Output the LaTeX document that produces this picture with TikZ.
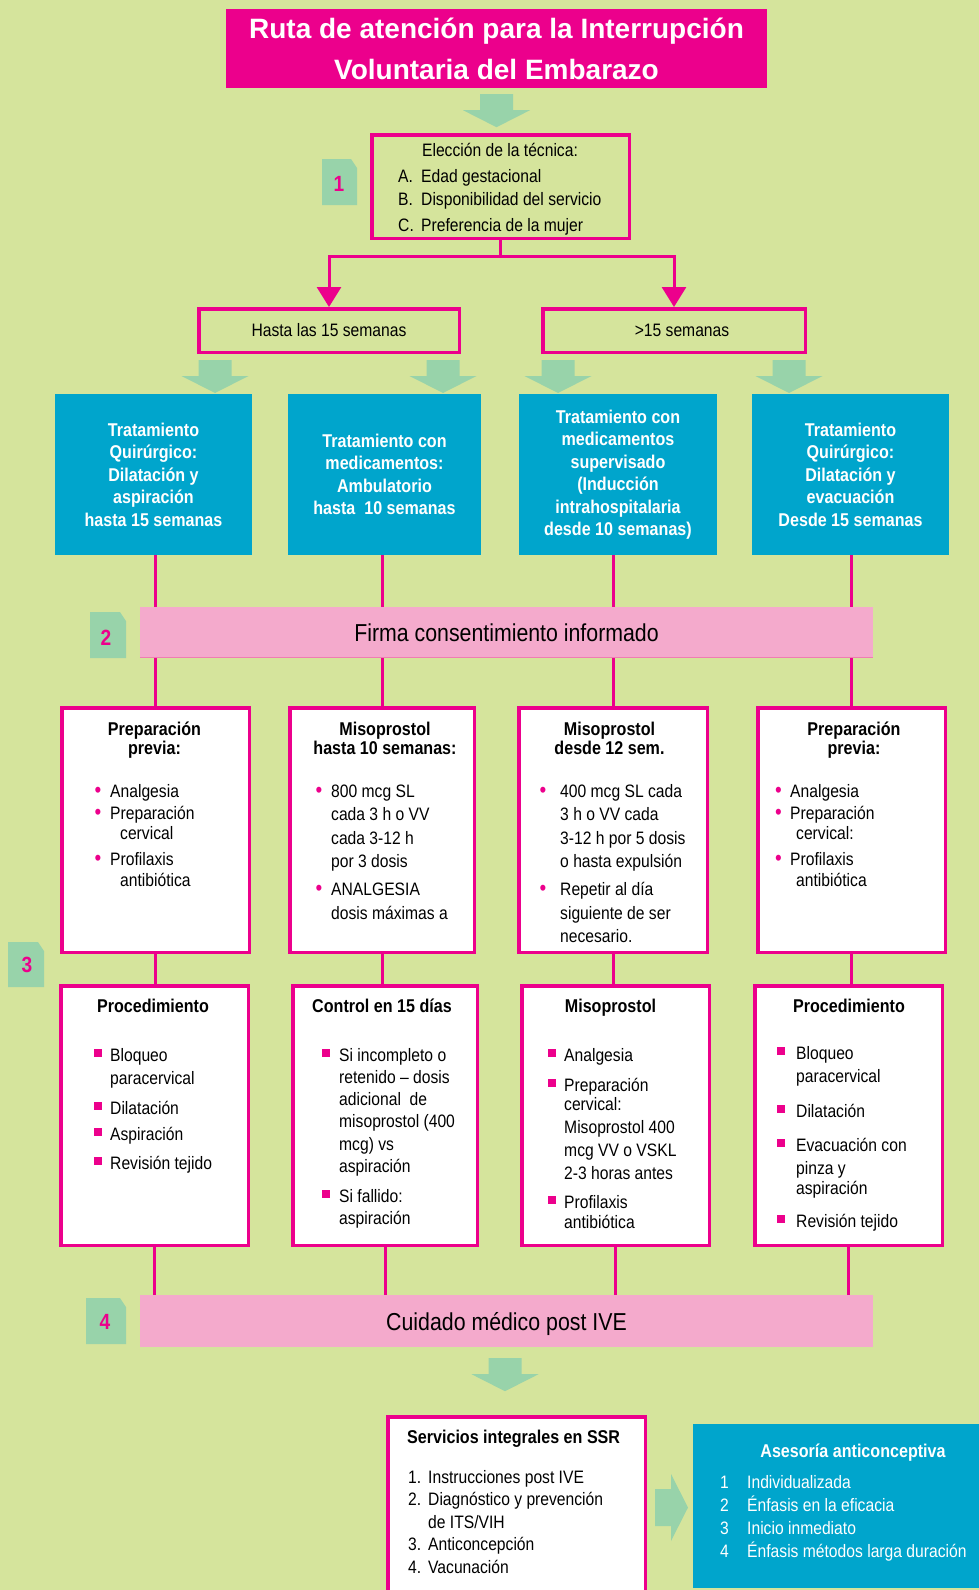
\documentclass[tikz,border=0pt]{standalone}
\usepackage{fontspec}
\setmainfont{Liberation Sans}[FakeStretch=0.87]
\newfontfamily\titlefont{Liberation Sans}
\usetikzlibrary{arrows.meta}

\definecolor{mag}{RGB}{236,0,140}
\definecolor{fondo}{RGB}{213,228,156}
\definecolor{azul}{RGB}{0,165,204}
\definecolor{rosa}{RGB}{244,170,204}
\definecolor{rosaborde}{RGB}{240,125,178}
\definecolor{verde}{RGB}{152,211,170}

\newlength\bulw
\newcommand\txtnorm{\fontsize{18}{23}\selectfont}
\newcommand\txthead{\bfseries\fontsize{18.5}{19}\selectfont}
% list block: lines always one baselineskip apart
\newcommand\lst[1]{\vtop{\lineskiplimit=-40pt\relax #1}}
% list lines: bullet, square, continuation, plain label
\newcommand\ibul[1]{\hbox{\makebox[\bulw][l]{\color{mag}\fontsize{22}{22}\selectfont\textbullet}#1}}
\newcommand\isq[1]{\hbox{\makebox[\bulw][l]{\color{mag}\rule[4.5pt]{8pt}{8pt}}#1}}
\newcommand\imore[1]{\hbox{\hspace{\bulw}#1}}
\newcommand\iplain[2]{\hbox{\makebox[\bulw][l]{#1}#2}}
% numbered tab with one cut corner
\newcommand\badge[4]{\fill[verde] (#1,#2) -- (#3-6,#2) -- (#3,#2+9) -- (#3,#4) -- (#1,#4) -- cycle;}

\tikzset{
  conn/.style={draw=mag, line width=3pt},
  pinkhead/.style={-{Triangle[width=24pt,length=20pt]}},
  outline/.style={draw=mag, line width=3.5pt, inner sep=0pt},
  whitebox/.style={outline, fill=white},
  bluebox/.style={fill=azul, text=white, inner sep=0pt, align=center,
    font=\bfseries\fontsize{18.5}{22.5}\selectfont},
  band/.style={fill=rosa, inner sep=0pt, text height=18pt, text depth=0pt,
    minimum width=733pt, font=\fontsize{24.5}{28}\selectfont},
  badgenum/.style={text=mag, inner sep=0pt, font=\bfseries\fontsize{22}{22}\selectfont},
  txt/.style={inner sep=0pt},
  fatdown/.pic={\fill[verde] (-16.5,0) -- (16.5,0) -- (16.5,16) -- (33.5,16)
    -- (0,33) -- (-33.5,16) -- (-16.5,16) -- cycle;},
  fatright/.pic={\fill[verde] (0,-18.5) -- (16,-18.5) -- (16,-33.5) -- (33,0)
    -- (16,33.5) -- (16,18.5) -- (0,18.5) -- cycle;}
}

\begin{document}
\begin{tikzpicture}[x=1pt,y=-1pt]
  \useasboundingbox (0,0) rectangle (979,1590);
  \fill[fondo] (0,0) rectangle (979,1590);
  \clip (0,0) rectangle (979,1590);

  %-----------------------------
  % Title and choice of technique
  \node[fill=mag, text=white, inner sep=0pt, minimum width=541pt, minimum height=79pt,
        align=center, font=\titlefont\bfseries\fontsize{28}{41}\selectfont] (title)
        at (496.5,48.5) {Ruta de atención para la Interrupción\\Voluntaria del Embarazo};
  \pic at ([yshift=-6pt]title.south) {fatdown};

  \node[outline, minimum width=257.5pt, minimum height=103.5pt] (el) at (500.5,186.5) {};
  \node[txt, anchor=base, font=\txtnorm] (elt) at (500,156) {Elección de la técnica:};
  \node[txt, anchor=base west, font=\txtnorm] (ell) at (398,182)
    {\setlength\bulw{23pt}\lst{\iplain{A.}{Edad gestacional}\iplain{B.}{Disponibilidad del servicio}%
     \vskip3pt\iplain{C.}{Preferencia de la mujer}}};
  \badge{322}{159}{357}{205}
  \node[badgenum] (n1) at (339,184) {1};

  % gestational age
  \node[outline, minimum width=260.5pt, minimum height=43.5pt, font=\txtnorm] (hasta)
        at (329,330.5) {Hasta las 15 semanas};
  \node[outline, minimum width=262.5pt, minimum height=43.5pt, font=\txtnorm] (gt)
        at (674,330.5) {\hspace*{16pt}>15 semanas};
  \draw[conn] (el.south) -- ++(0,16) coordinate (split);
  \draw[conn,pinkhead] (split) -| (hasta.north);
  \draw[conn,pinkhead] (split) -| (gt.north);

  \pic at ([xshift=18pt,yshift=-6pt]hasta.south west) {fatdown};
  \pic at ([xshift=-18pt,yshift=-6pt]hasta.south east) {fatdown};
  \pic at ([xshift=17pt,yshift=-6pt]gt.south west) {fatdown};
  \pic at ([xshift=-18pt,yshift=-6pt]gt.south east) {fatdown};

  %-----------------------------
  % Treatments
  \node[bluebox, minimum width=197pt, minimum height=161pt] (ta) at (153.5,474.5)
    {Tratamiento\\Quirúrgico:\\Dilatación y\\aspiración\\hasta 15 semanas};
  \node[bluebox, minimum width=193pt, minimum height=161pt] (tb) at (384.5,474.5)
    {Tratamiento con\\medicamentos:\\Ambulatorio\\hasta~ 10 semanas};
  \node[bluebox, minimum width=198pt, minimum height=161pt] (tc) at (618,474.5)
    {Tratamiento con\\medicamentos\\supervisado\\(Inducción\\intrahospitalaria\\desde 10 semanas)};
  \node[bluebox, minimum width=197pt, minimum height=161pt] (td) at (850.5,474.5)
    {Tratamiento\\Quirúrgico:\\Dilatación y\\evacuación\\Desde 15 semanas};

  %-----------------------------
  % Preparation (row 2)
  \node[whitebox, minimum width=187.5pt, minimum height=244.5pt] (pa) at (155.5,830) {};
  \node[whitebox, minimum width=184.5pt, minimum height=244.5pt] (pb) at (382,830) {};
  \node[whitebox, minimum width=188.5pt, minimum height=244.5pt] (pc) at (613,830) {};
  \node[whitebox, minimum width=187.5pt, minimum height=244.5pt] (pd) at (851.5,830) {};

  \node[txt, anchor=base, font=\txthead] (pah) at (154.5,735)
    {\begin{tabular}[t]{@{}c@{}}Preparación\\previa:\end{tabular}};
  \node[txt, anchor=base west, font=\txtnorm] (pal) at (94.5,797)
    {\setlength\bulw{15.5pt}\fontsize{18}{20.5}\selectfont\lst{\ibul{Analgesia}\vskip1.5pt
     \ibul{Preparación}\imore{\hspace{10pt}cervical}\vskip5.5pt
     \ibul{Profilaxis}\imore{\hspace{10pt}antibiótica}}};

  \node[txt, anchor=base, font=\txthead] (pbh) at (385,735)
    {\begin{tabular}[t]{@{}c@{}}Misoprostol\\hasta 10 semanas:\end{tabular}};
  \node[txt, anchor=base west, font=\txtnorm] (pbl) at (315.5,797)
    {\setlength\bulw{15.5pt}\fontsize{18}{23.5}\selectfont\lst{\ibul{800 mcg SL}
     \imore{cada 3 h o VV}\imore{cada 3-12 h}\imore{por 3 dosis}\vskip4.5pt
     \ibul{ANALGESIA}\imore{dosis máximas a}}};

  \node[txt, anchor=base, font=\txthead] (pch) at (609.5,735)
    {\begin{tabular}[t]{@{}c@{}}Misoprostol\\desde 12 sem.\end{tabular}};
  \node[txt, anchor=base west, font=\txtnorm] (pcl) at (539.5,797)
    {\setlength\bulw{20.5pt}\fontsize{18}{23.5}\selectfont\lst{\ibul{400 mcg SL cada}
     \imore{3 h o VV cada}\imore{3-12 h por 5 dosis}\imore{o hasta expulsión}\vskip4.5pt
     \ibul{Repetir al día}\imore{siguiente de ser}\imore{necesario.}}};

  \node[txt, anchor=base, font=\txthead] (pdh) at (854,735)
    {\begin{tabular}[t]{@{}c@{}}Preparación\\previa:\end{tabular}};
  \node[txt, anchor=base west, font=\txtnorm] (pdl) at (775,797)
    {\setlength\bulw{15pt}\fontsize{18}{20.5}\selectfont\lst{\ibul{Analgesia}\vskip1.5pt
     \ibul{Preparación}\imore{\hspace{6pt}cervical:}\vskip5.5pt
     \ibul{Profilaxis}\imore{\hspace{6pt}antibiótica}}};

  %-----------------------------
  % Procedure (row 3)
  \node[whitebox, minimum width=187.5pt, minimum height=259.5pt] (qa) at (154.5,1115.5) {};
  \node[whitebox, minimum width=184.5pt, minimum height=259.5pt] (qb) at (385,1115.5) {};
  \node[whitebox, minimum width=187.5pt, minimum height=259.5pt] (qc) at (615.5,1115.5) {};
  \node[whitebox, minimum width=187.5pt, minimum height=259.5pt] (qd) at (848.5,1115.5) {};

  \node[txt, anchor=base, font=\txthead] (qah) at (153,1012) {Procedimiento};
  \node[txt, anchor=base west, font=\txtnorm] (qal) at (94,1061)
    {\setlength\bulw{16pt}\lst{\isq{Bloqueo}\imore{paracervical}\vskip7pt
     \isq{Dilatación}\vskip3pt\isq{Aspiración}\vskip6pt\isq{Revisión tejido}}};

  \node[txt, anchor=base, font=\txthead] (qbh) at (382,1012) {Control en 15 días};
  \node[txt, anchor=base west, font=\txtnorm] (qbl) at (322,1061)
    {\setlength\bulw{17pt}\fontsize{18}{22.3}\selectfont\lst{\isq{Si incompleto o}
     \imore{retenido -- dosis}\imore{adicional~ de}\imore{misoprostol (400}
     \imore{mcg) vs}\imore{aspiración}\vskip7.5pt\isq{Si fallido:}\imore{aspiración}}};

  \node[txt, anchor=base, font=\txthead] (qch) at (610.5,1012) {Misoprostol};
  \node[txt, anchor=base west, font=\txtnorm] (qcl) at (548,1061)
    {\setlength\bulw{16pt}\lst{\isq{Analgesia}\vskip7pt\isq{Preparación}\vskip-4pt
     \imore{cervical:}\imore{Misoprostol 400}\imore{mcg VV o VSKL}\imore{2-3 horas antes}
     \vskip6pt\isq{Profilaxis}\vskip-3pt\imore{antibiótica}}};

  \node[txt, anchor=base, font=\txthead] (qdh) at (849,1012) {Procedimiento};
  \node[txt, anchor=base west, font=\txtnorm] (qdl) at (777,1059)
    {\setlength\bulw{19pt}\lst{\isq{Bloqueo}\imore{paracervical}\vskip12pt
     \isq{Dilatación}\vskip11pt\isq{Evacuación con}\imore{pinza y}\vskip-3pt
     \imore{aspiración}\vskip10pt\isq{Revisión tejido}}};

  %-----------------------------
  % Column lines, drawn under the bands
  \draw[conn] (pa.north |- ta.south) -- (pa.north);
  \draw[conn] (pb.north |- tb.south) -- (pb.north);
  \draw[conn] (pc.north |- tc.south) -- (pc.north);
  \draw[conn] (pd.north |- td.south) -- (pd.north);
  \draw[conn] (pa.south) -- (pa.south |- qa.north);
  \draw[conn] (pb.south) -- (pb.south |- qb.north);
  \draw[conn] (pc.south) -- (pc.south |- qc.north);
  \draw[conn] (pd.south) -- (pd.south |- qd.north);

  \node[band, minimum height=51pt] (firma) at (506.5,632.5) {Firma consentimiento informado};
  \draw[rosaborde, line width=1.5pt] ([yshift=0.75pt]firma.south west) -- ([yshift=0.75pt]firma.south east);
  \badge{90}{612}{126}{658}
  \node[badgenum] (n2) at (106,638) {2};
  \badge{8}{942}{44}{987}
  \node[badgenum] (n3) at (27,965) {3};

  \node[band, minimum height=52pt] (cuid) at (506.5,1321) {Cuidado médico post IVE};
  \draw[conn] (qa.south) -- (qa.south |- cuid.north);
  \draw[conn] (qb.south) -- (qb.south |- cuid.north);
  \draw[conn] (qc.south) -- (qc.south |- cuid.north);
  \draw[conn] (qd.south) -- (qd.south |- cuid.north);
  \badge{86}{1298}{126}{1344}
  \node[badgenum] (n4) at (105,1322) {4};

  %-----------------------------
  % After care
  \pic at ([xshift=-1.5pt,yshift=-11pt]cuid.south) {fatdown};

  \node[whitebox, minimum width=257.5pt, minimum height=181.5pt] (ssr) at (516.5,1507.5) {};
  \node[txt, anchor=base west, font=\txthead] (ssrt) at (407,1443) {Servicios integrales en SSR};
  \node[txt, anchor=base west, font=\txtnorm] (ssrl) at (408,1483)
    {\setlength\bulw{20pt}\fontsize{18}{22.5}\selectfont\lst{\iplain{1.}{Instrucciones post IVE}
     \iplain{2.}{Diagnóstico y prevención}\imore{de ITS/VIH}\iplain{3.}{Anticoncepción}
     \iplain{4.}{Vacunación}}};

  \pic at ([xshift=8pt]ssr.east) {fatright};

  \node[fill=azul, inner sep=0pt, minimum width=290pt, minimum height=164pt] (ases) at (838,1506) {};
  \node[txt, anchor=base, text=white, font=\txthead] (asest) at (853,1457) {Asesoría anticonceptiva};
  \node[txt, anchor=base west, text=white, font=\txtnorm] (asesl) at (720,1488)
    {\setlength\bulw{27pt}\lst{\iplain{1}{Individualizada}\iplain{2}{Énfasis en la eficacia}
     \iplain{3}{Inicio inmediato}\iplain{4}{Énfasis métodos larga duración}}};
\end{tikzpicture}
\end{document}
